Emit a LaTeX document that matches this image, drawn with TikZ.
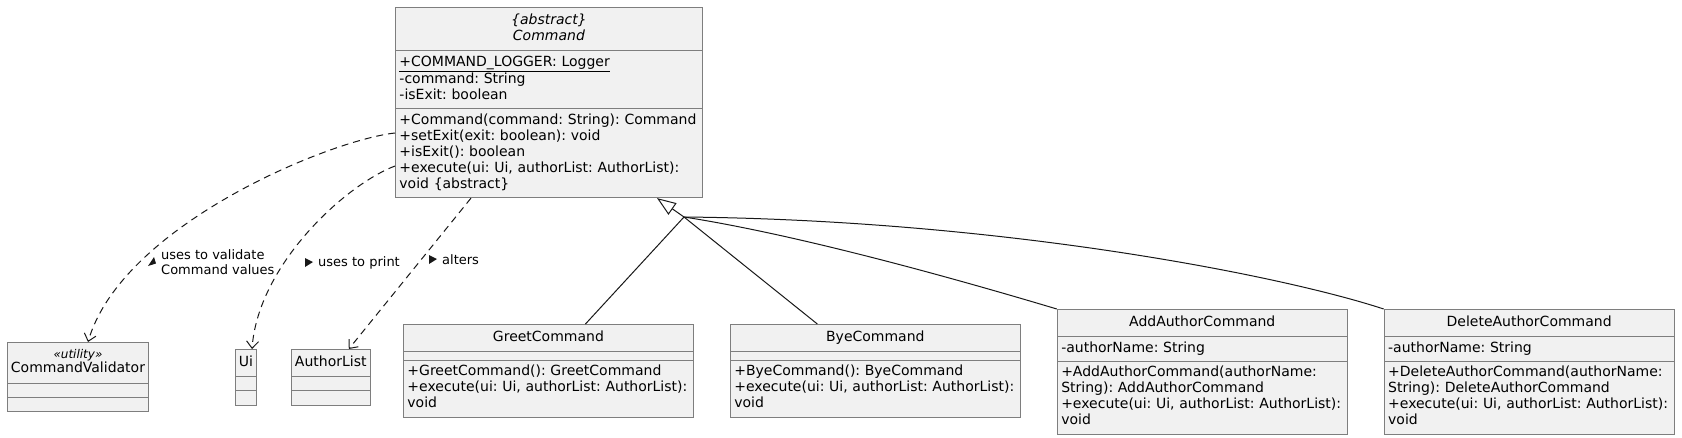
\documentclass[tikz,border=0pt]{standalone}
\usepackage{fontspec}
\setmainfont{DejaVu Sans}[ItalicFont={DejaVu Sans Oblique}]
\usetikzlibrary{shapes.multipart,arrows.meta,positioning}
\definecolor{umlfill}{HTML}{F1F1F1}
\definecolor{umlink}{HTML}{181818}
\definecolor{umlborder}{HTML}{7E7E7E}
\newcommand{\tpad}{\rule{0pt}{12.2pt}}
\newcommand{\bpad}{\rule[-5.8pt]{0pt}{0pt}}
\newcommand{\ctr}[1]{\makebox[\hsize][c]{#1}}
\hyphenpenalty=10000
\exhyphenpenalty=10000

\begin{document}
\begin{tikzpicture}[x=1pt, y=-1pt,
  umlclass/.style={rectangle split, rectangle split parts=3,
    rectangle split ignore empty parts=false,
    rectangle split empty part height=0pt, rectangle split empty part depth=0pt,
    draw=umlborder, line width=0.9pt, fill=umlfill, inner xsep=4pt, inner ysep=4pt,
    font=\fontsize{14}{16}\selectfont\frenchspacing, text=black},
  bigclass/.style={umlclass, align=left, text width=#1},
  smallclass/.style={umlclass, align=center, inner xsep=3.5pt},
  dep/.style={draw=umlink, line width=1pt, dash pattern=on 7pt off 5pt,
    -{Straight Barb[length=7pt, width=12pt, line width=1pt]}},
  gen/.style={draw=umlink, line width=1pt},
  lbl/.style={font=\fontsize{13}{15}\selectfont, align=left, inner sep=0pt, anchor=west}]
\useasboundingbox (0,0) rectangle (1682,437);

% abstract base class
\node[bigclass=299pt, anchor=north west] (cmd) at (395,7)
  {\ctr{\itshape\tpad\{abstract\}}\\\ctr{\itshape Command\bpad}
   \nodepart{two}\strut\underline{+COMMAND\_LOGGER: Logger}\\
   \strut-command: String\\
   \strut-isExit: boolean
   \nodepart{three}\strut+Command(command: String): Command\\
   \strut+setExit(exit: boolean): void\\
   \strut+isExit(): boolean\\
   \strut+execute(ui: Ui, authorList: AuthorList):\\
   \strut void \{abstract\}};

% used classes
\node[smallclass, anchor=north west] (valid) at (7,342)
  {{\fontsize{12}{14}\selectfont\itshape\rule{0pt}{12pt}«utility»}\\[-2pt]CommandValidator\bpad
   \nodepart{two}\nodepart{three}};
\node[smallclass, anchor=north west] (ui) at (235,349)
  {\tpad Ui\bpad \nodepart{two}\nodepart{three}};
\node[smallclass, right=34pt of ui.north east, anchor=north west] (alist)
  {\tpad AuthorList\bpad \nodepart{two}\nodepart{three}};

% subclasses
\node[bigclass=282pt, anchor=north west] (greet) at (403,324)
  {\ctr{\tpad GreetCommand\bpad}
   \nodepart{two}
   \nodepart{three}\strut+GreetCommand(): GreetCommand\\
   \strut+execute(ui: Ui, authorList: AuthorList):\\
   \strut void};
\node[bigclass=282pt, right=36pt of greet.north east, anchor=north west] (bye)
  {\ctr{\tpad ByeCommand\bpad}
   \nodepart{two}
   \nodepart{three}\strut+ByeCommand(): ByeCommand\\
   \strut+execute(ui: Ui, authorList: AuthorList):\\
   \strut void};
\node[bigclass=282pt, above right=15pt and 36pt of bye.north east, anchor=north west] (addauth)
  {\ctr{\tpad AddAuthorCommand\bpad}
   \nodepart{two}\strut-authorName: String
   \nodepart{three}\strut+AddAuthorCommand(authorName:\\
   \strut String): AddAuthorCommand\\
   \strut+execute(ui: Ui, authorList: AuthorList):\\
   \strut void};
\node[bigclass=282pt, right=36pt of addauth.north east, anchor=north west] (delauth)
  {\ctr{\tpad DeleteAuthorCommand\bpad}
   \nodepart{two}\strut-authorName: String
   \nodepart{three}\strut+DeleteAuthorCommand(authorName:\\
   \strut String): DeleteAuthorCommand\\
   \strut+execute(ui: Ui, authorList: AuthorList):\\
   \strut void};

% inheritance
\coordinate (hub) at (684,217);
\draw[gen] ([xshift=37pt]greet.north) -- (hub);
\draw[gen] ([xshift=-58pt]bye.north) -- (hub);
\draw[gen] (addauth.north west) .. controls (960,280) and (800,235) .. (hub);
\draw[gen] (delauth.north west) .. controls (1280,275) and (1000,220) .. (hub);
\draw[gen, -{Triangle[open, length=19pt, width=14pt, line width=1pt]}] (hub) -- ([xshift=262pt]cmd.south west);

% dependencies
\draw[dep] (cmd.north west) ++(0,126) .. controls (330,140) and (122,225) .. ([xshift=10pt]valid.north);
\draw[dep] (cmd.north west) ++(0,159) .. controls (345,185) and (258,265) .. ([xshift=6pt]ui.north);
\draw[dep] ([xshift=76pt]cmd.south west) -- ([xshift=18pt]alist.north);

% labels
\node[lbl] (lval) at (161,262) {uses to validate\\Command values};
\node[lbl] (lprint) at (318,263) {uses to print};
\node[lbl] (lalter) at (442,260) {alters};
\fill[umlink] ([shift={(-13,4)}]lval.west) -- ([shift={(-5,1.5)}]lval.west) -- ([shift={(-7,-5)}]lval.west) -- cycle;
\fill[umlink] ([shift={(-13,-5)}]lprint.west) -- ([shift={(-13,4)}]lprint.west) -- ([shift={(-5,-1)}]lprint.west) -- cycle;
\fill[umlink] ([shift={(-13,-5)}]lalter.west) -- ([shift={(-13,4)}]lalter.west) -- ([shift={(-5,-1)}]lalter.west) -- cycle;
\end{tikzpicture}
\end{document}
